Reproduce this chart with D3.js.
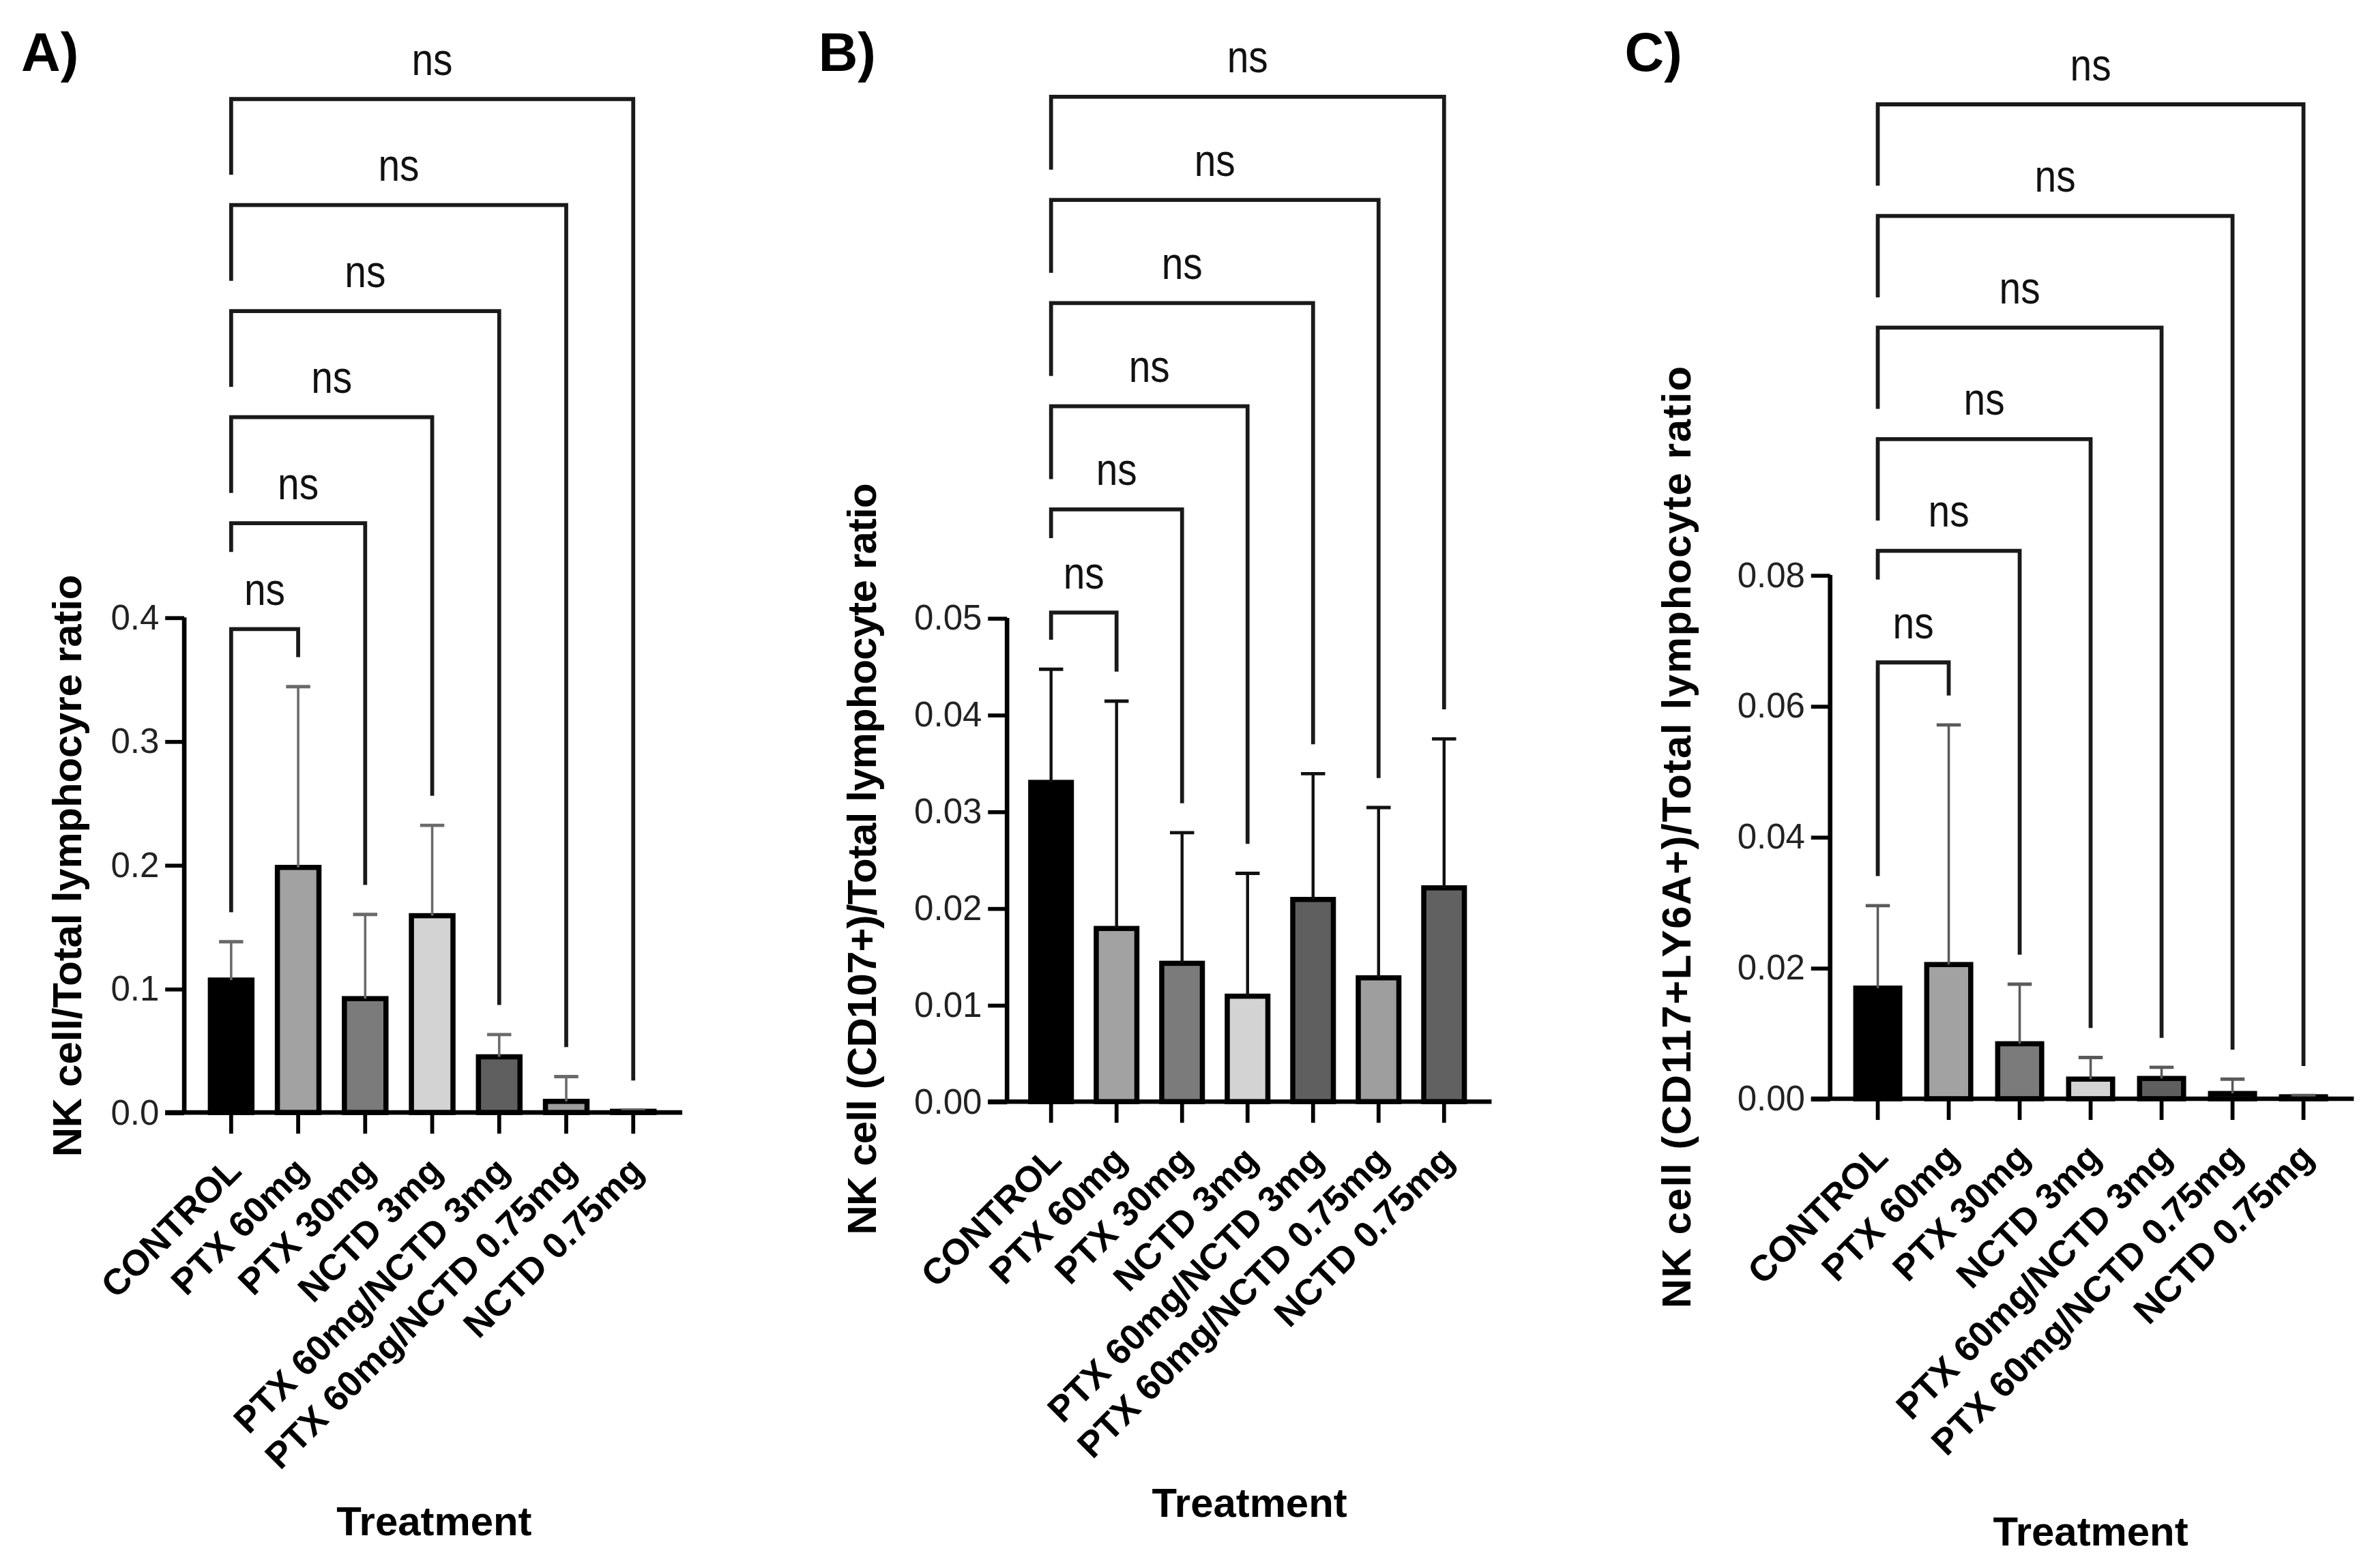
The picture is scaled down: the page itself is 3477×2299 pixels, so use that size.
<!DOCTYPE html>
<html>
<head>
<meta charset="utf-8">
<title>NK cell ratios</title>
<style>
  html, body { margin: 0; padding: 0; background: #fff; }
  text { font-family: Arial, "Liberation Sans", sans-serif; }
</style>
</head>
<body>
<div class="plot_container"></div>
<script src="https://cdn.jsdelivr.net/npm/d3@7"></script>
<script>
// ---- data ----
var categories = ["CONTROL", "PTX 60mg", "PTX 30mg", "NCTD 3mg",
                  "PTX 60mg/NCTD 3mg", "PTX 60mg/NCTD 0.75mg", "NCTD 0.75mg"];

var meanA = [0.107, 0.198, 0.092, 0.159, 0.045, 0.009, 0.001];
var sdA   = [0.031, 0.146, 0.068, 0.073, 0.018, 0.020, 0.001];

var meanB = [0.0330, 0.0179, 0.0143, 0.0109, 0.0209, 0.0128, 0.0221];
var sdB   = [0.0117, 0.0235, 0.0135, 0.0127, 0.0130, 0.0176, 0.0154];

var meanC = [0.0169, 0.0205, 0.0084, 0.0030, 0.0031, 0.0008, 0.0003];
var sdC   = [0.0126, 0.0366, 0.0091, 0.0033, 0.0017, 0.0022, 0.0002];

var ticksA = [0, 0.1, 0.2, 0.3, 0.4];
var ticksB = [0, 0.01, 0.02, 0.03, 0.04, 0.05];
var ticksC = [0, 0.02, 0.04, 0.06, 0.08];

// comparisons: CONTROL against every other group
var comparisons = [[0, 1], [0, 2], [0, 3], [0, 4], [0, 5], [0, 6]];
var compLabels  = ["ns", "ns", "ns", "ns", "ns", "ns"];

var panelLabels = ["A)", "B)", "C)"];
var yTitles = ["NK cell/Total lymphocyre ratio",
               "NK cell (CD107+)/Total lymphocyte ratio",
               "NK cell (CD117+LY6A+)/Total lymphocyte ratio"];
var xTitle = "Treatment";

var barColors = ["#000000", "#a2a2a2", "#7b7b7b", "#d3d3d3", "#5f5f5f", "#9e9e9e", "#616161"];

// ---- layout (in a 1568 wide coordinate system) ----
var W = 1568, H = 1568 * 2299 / 3477;

var panels = [
  {label: panelLabels[0], mean: meanA, sd: sdA, ticks: ticksA, fmt: ".1f", title: yTitles[0],
   axisX: 121.8, y0: 735.6, yTop: 408.2, firstX: 152.8, step: 44.3, xEnd: 451,
   brY: 416, brStep: 70.1, titleX: 53.5, titleY: 572.5, titleLen: 385,
   treatX: 287, treatY: 1015, labX: 14, errColor: "#6a6a6a", errW: 1.6},
  {label: panelLabels[1], mean: meanB, sd: sdB, ticks: ticksB, fmt: ".2f", title: yTitles[1],
   axisX: 665.7, y0: 728.4, yTop: 408.6, firstX: 694.8, step: 43.3, xEnd: 986,
   brY: 405, brStep: 68.2, titleX: 579, titleY: 568, titleLen: 497,
   treatX: 826, treatY: 1003, labX: 541, errColor: "#111", errW: 2},
  {label: panelLabels[2], mean: meanC, sd: sdC, ticks: ticksC, fmt: ".2f", title: yTitles[2],
   axisX: 1209.8, y0: 726.5, yTop: 380.2, firstX: 1241.3, step: 46.9, xEnd: 1556,
   brY: 438, brStep: 73.8, titleX: 1117.5, titleY: 553.6, titleLen: 623,
   treatX: 1382, treatY: 1022, labX: 1074, errColor: "#5a5a5a", errW: 1.6}
];

var svg = d3.select(".plot_container").append("svg")
    .attr("width", 3477)
    .attr("height", 2299)
    .attr("viewBox", "0 0 " + W + " " + H)
    .style("display", "block")
    .style("background", "#fff");

var tickLen = 12.6;
var gap = 19.5;

panels.forEach(function(p){
    var g = svg.append("g");
    var ymax = p.ticks[p.ticks.length - 1];
    var y = d3.scaleLinear().domain([0, ymax]).range([p.y0, p.yTop]);
    var x = d3.scaleBand().domain(categories)
        .range([p.firstX - p.step / 2, p.firstX - p.step / 2 + p.step * categories.length])
        .paddingInner(0.38).paddingOuter(0.19);
    var cx = function(i){ return x(categories[i]) + x.bandwidth() / 2; };

    // panel letter
    g.append("text").attr("x", p.labX).attr("y", 47)
        .attr("font-size", 36).attr("font-weight", "bold").text(p.label);

    // bars
    g.selectAll(".bar").data(p.mean).enter().append("rect")
        .attr("class", "bar")
        .attr("x", function(d, i){ return x(categories[i]); })
        .attr("width", x.bandwidth())
        .attr("y", function(d){ return y(d); })
        .attr("height", function(d){ return p.y0 - y(d); })
        .style("fill", function(d, i){ return barColors[i]; })
        .style("stroke", "#000")
        .style("stroke-width", 3.4);

    // error bars (upper only)
    var err = g.selectAll(".err").data(p.mean).enter().append("g").attr("class", "err");
    err.append("line")
        .attr("x1", function(d, i){ return cx(i); })
        .attr("x2", function(d, i){ return cx(i); })
        .attr("y1", function(d){ return y(d); })
        .attr("y2", function(d, i){ return y(d + p.sd[i]); })
        .style("stroke", p.errColor).style("stroke-width", p.errW);
    err.append("line")
        .attr("x1", function(d, i){ return cx(i) - 8; })
        .attr("x2", function(d, i){ return cx(i) + 8; })
        .attr("y1", function(d, i){ return y(d + p.sd[i]); })
        .attr("y2", function(d, i){ return y(d + p.sd[i]); })
        .style("stroke", p.errColor).style("stroke-width", 2.2);

    // y axis
    var yAxis = d3.axisLeft(y).tickValues(p.ticks).tickSize(tickLen).tickPadding(4)
        .tickFormat(d3.format(p.fmt));
    var ya = g.append("g").attr("transform", "translate(" + p.axisX + ",0)").call(yAxis);
    ya.select(".domain").attr("d", "M0," + p.yTop + "V" + p.y0)
        .style("stroke", "#000").style("stroke-width", 3);
    ya.selectAll(".tick line").style("stroke", "#000").style("stroke-width", 2.6);
    ya.selectAll(".tick text").attr("font-size", 23).attr("fill", "#222")
        .style("font-family", "Arial, 'Liberation Sans', sans-serif");

    // x axis baseline + ticks
    g.append("line").attr("x1", p.axisX - tickLen).attr("x2", p.xEnd)
        .attr("y1", p.y0).attr("y2", p.y0)
        .style("stroke", "#000").style("stroke-width", 3);
    g.selectAll(".xtick").data(categories).enter().append("line")
        .attr("x1", function(d){ return x(d) + x.bandwidth() / 2; })
        .attr("x2", function(d){ return x(d) + x.bandwidth() / 2; })
        .attr("y1", p.y0).attr("y2", p.y0 + 14)
        .style("stroke", "#000").style("stroke-width", 2.6);
    g.selectAll(".xlab").data(categories).enter().append("text")
        .attr("transform", function(d){
            return "translate(" + (x(d) + x.bandwidth() / 2 + 8) + "," + (p.y0 + 40) + ") rotate(-45)";
        })
        .attr("text-anchor", "end")
        .attr("font-size", 24).attr("font-weight", "bold")
        .text(function(d){ return d; });

    // axis titles
    g.append("text")
        .attr("transform", "translate(" + p.titleX + "," + p.titleY + ") rotate(-90)")
        .attr("text-anchor", "middle").attr("font-size", 27).attr("font-weight", "bold")
        .attr("textLength", p.titleLen).attr("lengthAdjust", "spacing")
        .text(p.title);
    g.append("text").attr("x", p.treatX).attr("y", p.treatY)
        .attr("text-anchor", "middle").attr("font-size", 27).attr("font-weight", "bold")
        .text(xTitle);

    // significance brackets
    comparisons.forEach(function(c, k){
        var by = p.brY - k * p.brStep;
        var xl = cx(c[0]), xr = cx(c[1]);
        var leftEnd;
        if (k === 0) leftEnd = y(p.mean[c[0]] + p.sd[c[0]]) - gap;
        else if (k === 1) leftEnd = by + 19;
        else leftEnd = by + p.brStep - 20;
        var rightEnd = y(p.mean[c[1]] + p.sd[c[1]]) - gap;
        g.append("path")
            .attr("d", "M" + xl + "," + leftEnd + "V" + by + "H" + xr + "V" + rightEnd)
            .style("fill", "none").style("stroke", "#1a1a1a").style("stroke-width", 2.6);
        g.append("text")
            .attr("transform", "translate(" + ((xl + xr) / 2) + "," + (by - 16) + ") scale(0.95,1.12)")
            .attr("text-anchor", "middle").attr("font-size", 27).attr("fill", "#111")
            .text(compLabels[k]);
    });
});
</script>
</body>
</html>
